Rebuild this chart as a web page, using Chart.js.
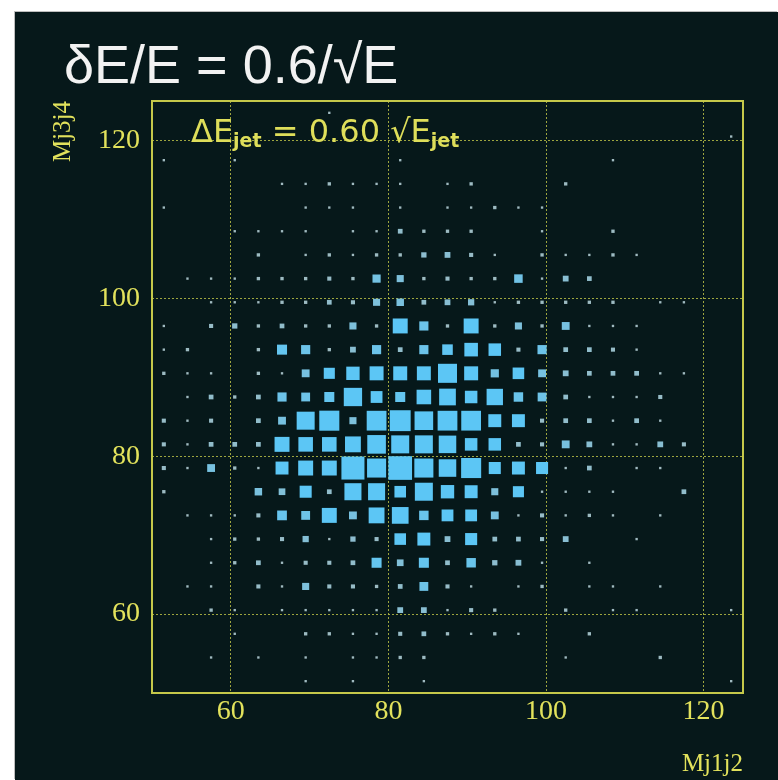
<!DOCTYPE html>
<html lang="en">
<head>
<meta charset="UTF-8">
<title>Mj1j2 vs Mj3j4</title>
<script src="https://cdn.jsdelivr.net/npm/chart.js@4.4.0/dist/chart.umd.min.js"></script>
<style>
  html, body { margin: 0; padding: 0; background: #ffffff; }
  .panel {
    position: absolute; left: 15px; top: 12px; width: 763px; height: 768px;
    background: #06181a; box-shadow: -1px -1px 0 #bdbdbd;
  }
  .panel canvas { position: absolute; left: 0; top: 0; }
  .headline {
    position: absolute; left: 49px; top: 25px; margin: 0;
    font: 54px/54px "Liberation Sans", Arial, sans-serif; color: #f2f2f2; white-space: nowrap;
  }
  .note {
    position: absolute; left: 176px; top: 103px;
    font: 32px/32px "DejaVu Sans", sans-serif; color: #dede5a; white-space: nowrap;
  }
  .note span { font-size: 19px; font-weight: bold; position: relative; top: 5px; }
</style>
</head>
<body>
<div class="panel">
  <canvas id="lego" width="763" height="768"></canvas>
  <div class="headline">δE/E = 0.6/√E</div>
  <div class="note">ΔE<span>jet</span> = 0.60 √E<span>jet</span></div>
</div>

<script>
// bin centres (GeV), 3 GeV bins from 50 to 125
const binWidth = 3;
const xCenters = [51.5, 54.5, 57.5, 60.5, 63.5, 66.5, 69.5, 72.5, 75.5, 78.5, 81.5, 84.5, 87.5,
                  90.5, 93.5, 96.5, 99.5, 102.5, 105.5, 108.5, 111.5, 114.5, 117.5, 120.5, 123.5];
// rows listed from the top of the plot (high Mj3j4) downwards
const yCenters = [123.5, 120.5, 117.5, 114.5, 111.5, 108.5, 105.5, 102.5, 99.5, 96.5, 93.5, 90.5, 87.5,
                  84.5, 81.5, 78.5, 75.5, 72.5, 69.5, 66.5, 63.5, 60.5, 57.5, 54.5, 51.5];
const xTicks = [60, 80, 100, 120];
const yTicks = [60, 80, 100, 120];

// entries per cell, one row per yCenters value
const counts = [
  [0,0,0,0,0,0,0,1,0,0,0,0,0,0,0,0,0,0,0,0,0,0,0,0,0],
  [0,0,0,0,0,0,0,0,0,0,0,0,0,0,0,0,0,0,0,0,0,0,0,0,1],
  [1,0,0,1,0,0,0,0,0,0,1,0,0,0,0,0,0,0,0,1,0,0,0,0,0],
  [0,0,0,0,0,1,1,2,1,1,1,0,1,2,0,0,0,2,0,0,0,0,0,0,0],
  [1,0,0,0,0,0,1,1,1,0,1,0,1,1,2,1,1,0,0,0,0,0,0,0,0],
  [0,0,0,1,1,1,1,0,1,1,4,2,2,2,0,0,1,0,0,2,0,0,0,0,0],
  [0,0,0,0,2,0,1,2,1,2,2,5,6,3,1,0,2,1,1,2,1,0,0,0,0],
  [0,1,1,1,2,2,2,3,2,12,9,2,3,2,2,13,1,6,4,0,0,0,0,0,0],
  [0,0,1,1,1,2,2,4,3,9,10,4,6,7,1,2,2,2,2,2,0,1,1,0,0],
  [1,0,3,5,2,4,2,2,9,2,40,15,2,40,2,9,2,11,1,1,1,0,0,0,0],
  [1,2,0,0,2,18,15,2,6,15,4,15,20,33,28,3,15,4,4,3,1,0,0,0,0],
  [2,1,1,0,2,1,11,22,32,35,35,35,65,35,12,24,11,6,4,4,4,1,1,0,0],
  [0,1,4,2,4,15,14,18,60,25,18,38,50,28,48,16,14,4,1,1,1,3,0,0,0],
  [3,1,3,0,4,11,58,72,9,70,78,62,70,70,30,30,3,4,4,1,4,1,0,0,0],
  [3,1,4,4,4,40,38,38,45,62,58,58,55,28,28,4,3,11,6,1,1,6,3,0,0],
  [3,1,11,2,1,30,40,40,95,65,100,65,55,72,26,30,26,1,4,0,1,1,0,0,0],
  [2,0,0,0,10,8,26,4,52,52,24,58,32,30,9,22,1,1,1,1,0,0,4,0,0],
  [0,1,1,1,3,17,14,40,11,45,50,16,25,25,11,1,3,1,2,1,0,1,0,0,0],
  [0,0,1,2,2,3,7,1,5,3,24,30,6,26,4,4,3,6,0,0,1,0,0,0,0],
  [0,0,1,2,4,1,3,3,4,18,8,18,4,16,5,6,1,0,1,0,0,0,0,0,0],
  [0,1,1,0,3,1,9,3,3,2,4,14,3,1,0,1,2,0,1,1,0,1,0,0,0],
  [0,0,2,1,0,1,1,1,1,1,6,6,1,3,2,0,0,2,0,1,1,0,0,0,1],
  [0,0,0,1,0,0,2,2,1,1,3,4,2,1,2,1,0,0,2,0,0,0,0,0,0],
  [0,0,1,0,1,0,1,0,1,1,2,2,0,0,0,0,0,1,0,0,0,2,0,0,0],
  [0,0,0,0,0,0,1,0,1,0,0,1,0,0,0,0,0,0,0,0,0,0,0,0,1]
];

const cells = [];
yCenters.forEach((y, r) => {
  xCenters.forEach((x, c) => {
    const n = counts[r][c];
    if (n > 0) cells.push({x: x, y: y, n: n});
  });
});
const maxCount = Math.max(...cells.map(p => p.n));

const axisYellow = '#e2e25c';
const gridYellow = 'rgba(185,190,70,0.85)';

// box side grows with sqrt(content) so the box area follows the bin content
function boxSide(ctx) {
  if (!ctx.raw) return 0;
  const sx = ctx.chart.scales.x;
  const bin = Math.abs(sx.getPixelForValue(binWidth) - sx.getPixelForValue(0));
  return bin * Math.sqrt(ctx.raw.n / maxCount);
}

// tiny boxes come out greyish, big ones light blue
function boxColour(ctx) {
  const s = boxSide(ctx);
  const t = Math.min(1, Math.max(0, (s - 3) / 8));
  const r = Math.round(160 + (92 - 160) * t);
  const g = Math.round(186 + (198 - 186) * t);
  const b = Math.round(192 + (245 - 192) * t);
  return `rgb(${r},${g},${b})`;
}

const frame = {
  id: 'frame',
  beforeDatasetsDraw(chart) {
    const {ctx, chartArea: a} = chart;
    ctx.save();
    ctx.strokeStyle = '#c4c84a';
    ctx.lineWidth = 2;
    ctx.strokeRect(a.left, a.top, a.right - a.left, a.bottom - a.top);
    ctx.restore();
  }
};

new Chart(document.getElementById('lego'), {
  type: 'scatter',
  data: {
    datasets: [{
      data: cells,
      pointStyle: 'rect',
      pointRadius: ctx => boxSide(ctx) / Math.SQRT2,
      pointHoverRadius: ctx => boxSide(ctx) / Math.SQRT2,
      pointBorderWidth: 0,
      backgroundColor: boxColour,
      borderColor: 'rgba(0,0,0,0)'
    }]
  },
  options: {
    responsive: false,
    animation: false,
    events: [],
    layout: { padding: { top: 89, right: 35, bottom: 0, left: 0 } },
    plugins: { legend: { display: false }, tooltip: { enabled: false } },
    scales: {
      x: {
        type: 'linear', min: 50, max: 125,
        afterFit: s => { s.height = 87; },
        afterBuildTicks: s => { s.ticks = xTicks.map(v => ({value: v})); },
        grid: { color: gridYellow, lineWidth: 1, drawTicks: false },
        border: { display: false, dash: [2, 2] },
        ticks: {
          color: axisYellow, padding: 5,
          font: { family: '"Liberation Serif", "Times New Roman", serif', size: 28, lineHeight: 1 }
        },
        title: {
          display: true, text: 'Mj1j2', align: 'end', color: axisYellow,
          padding: { top: 0, bottom: 1 },
          font: { family: '"Liberation Serif", "Times New Roman", serif', size: 25 }
        }
      },
      y: {
        type: 'linear', min: 50, max: 125,
        afterFit: s => { s.width = 137; },
        afterBuildTicks: s => { s.ticks = yTicks.map(v => ({value: v})); },
        grid: { color: gridYellow, lineWidth: 1, drawTicks: false },
        border: { display: false, dash: [2, 2] },
        ticks: {
          color: axisYellow, padding: 12,
          font: { family: '"Liberation Serif", "Times New Roman", serif', size: 28, lineHeight: 1 }
        },
        title: {
          display: true, text: 'Mj3j4', align: 'end', color: axisYellow,
          padding: { top: 33, bottom: 0 },
          font: { family: '"Liberation Serif", "Times New Roman", serif', size: 25 }
        }
      }
    }
  },
  plugins: [frame]
});
</script>
</body>
</html>
